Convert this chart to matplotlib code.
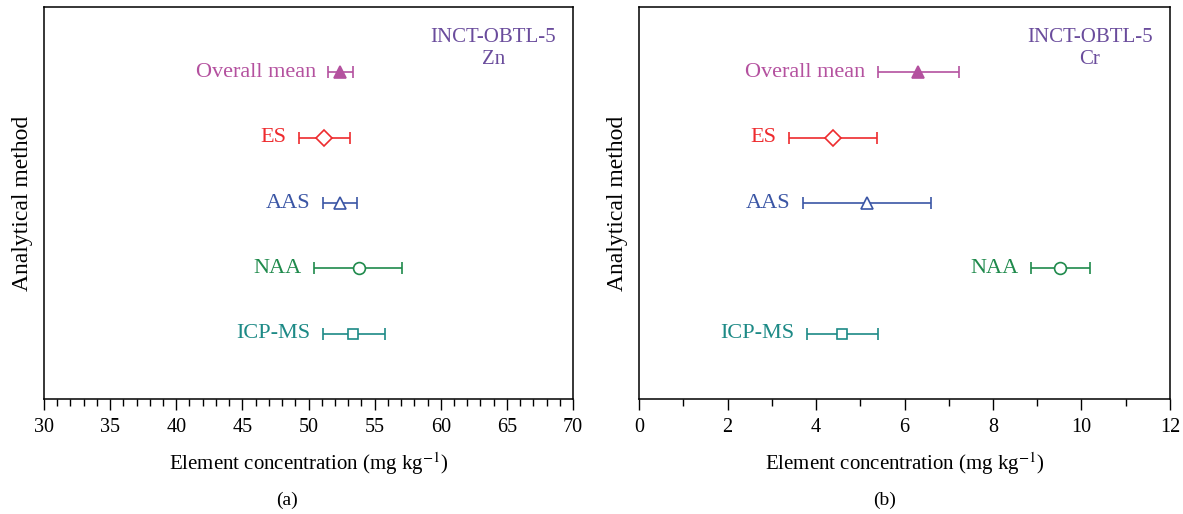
import numpy as np
import matplotlib
matplotlib.use("Agg")
import matplotlib.pyplot as plt
from matplotlib.ticker import MultipleLocator

plt.rcParams['font.family'] = ['Liberation Serif', 'DejaVu Serif']
plt.rcParams['mathtext.fontset'] = 'stix'

methods = ['Overall mean', 'ES', 'AAS', 'NAA', 'ICP-MS']
ypos = [5, 4, 3, 2, 1]
colors = ['#b4519f', '#ee2b2e', '#3b56a5', '#1f8a4c', '#1d8a86']
markers = ['^', 'D', '^', 'o', 's']
filled = [True, False, False, False, False]
msizes = [8.5, 8, 8.5, 8.5, 6.5]

# Zn (panel a)
zn_mean = [52.4, 51.2, 52.4, 53.8, 53.4]
zn_low = [51.5, 49.3, 51.1, 50.4, 51.1]
zn_high = [53.4, 53.1, 53.7, 57.1, 55.8]

# Cr (panel b)
cr_mean = [6.3, 4.38, 5.15, 9.51, 4.59]
cr_low = [5.4, 3.39, 3.71, 8.86, 3.79]
cr_high = [7.23, 5.38, 6.6, 10.19, 5.4]

fig = plt.figure(figsize=(11.83, 5.14), dpi=100)
ax1 = fig.add_axes([0.0372, 0.2237, 0.4472, 0.7627])
ax2 = fig.add_axes([0.5402, 0.2237, 0.4488, 0.7627])


def draw(ax, mean, low, high, element, xlim, major, minor):
    for i in range(len(methods)):
        err = [[mean[i] - low[i]], [high[i] - mean[i]]]
        ax.errorbar([mean[i]], [ypos[i]], xerr=err, fmt='none',
                    ecolor=colors[i], elinewidth=1.2, capsize=4.5, capthick=1.2)
        ax.plot([mean[i]], [ypos[i]], marker=markers[i], ms=msizes[i],
                mec=colors[i], mew=1.2,
                mfc=colors[i] if filled[i] else 'white', ls='none', zorder=5)
        ax.annotate(methods[i], xy=(low[i], ypos[i]), xytext=(-9, 0),
                    textcoords='offset points', ha='right', va='center',
                    color=colors[i], fontsize=16)
    ax.text(0.849, 0.895, 'INCT-OBTL-5\n' + element, transform=ax.transAxes,
            ha='center', va='center', color='#6a4c9c', fontsize=15,
            linespacing=1.2)
    ax.set_xlim(xlim)
    ax.set_ylim(0, 6)
    ax.set_yticks([])
    ax.xaxis.set_major_locator(MultipleLocator(major))
    ax.xaxis.set_minor_locator(MultipleLocator(minor))
    ax.tick_params(axis='x', which='major', direction='out', length=8,
                   width=1, labelsize=14.5, pad=6)
    ax.tick_params(axis='x', which='minor', direction='out', length=5, width=1)
    for s in ax.spines.values():
        s.set_linewidth(1.1)
    ax.set_xlabel('Element concentration (mg kg$^{-1}$)', fontsize=15,
                  labelpad=9)
    ax.set_ylabel('Analytical method', fontsize=17, labelpad=8)


draw(ax1, zn_mean, zn_low, zn_high, 'Zn', (30, 70), 5, 1)
draw(ax2, cr_mean, cr_low, cr_high, 'Cr', (0, 12), 2, 1)

fig.text(0.243, 0.027, '(a)', ha='center', va='center', fontsize=14)
fig.text(0.748, 0.027, '(b)', ha='center', va='center', fontsize=14)

fig.savefig('out.png', dpi=100)
